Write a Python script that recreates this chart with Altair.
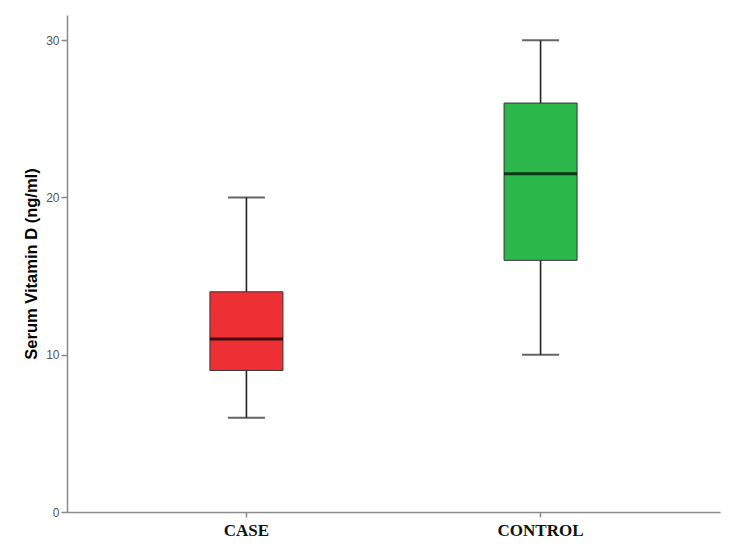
import altair as alt
import pandas as pd

groups = ["CASE", "CONTROL"]
mins = [6, 10]
q1s = [9, 16]
medians = [11, 21.5]
q3s = [14, 26]
maxs = [20, 30]
colors = ["#EE3035", "#2CB84A"]

df = pd.DataFrame({"group": groups, "min": mins, "q1": q1s, "median": medians,
                   "q3": q3s, "max": maxs})

xenc = alt.X("group:N", sort=groups, title=None,
             scale=alt.Scale(paddingInner=0.5, paddingOuter=0.36),
             axis=alt.Axis(labelAngle=0, labelFont="Liberation Serif", labelFontSize=17,
                           labelFontWeight="bold", labelColor="#111", labelPadding=5,
                           tickSize=5, tickColor="#8a8a8a", domainColor="#8a8a8a",
                           domainWidth=1.5, tickWidth=1.5))
yscale = alt.Scale(domain=[0, 31.6], nice=False, zero=True)
yaxis = alt.Axis(values=[0, 10, 20, 30], grid=False, title="Serum Vitamin D (ng/ml)",
                 titleFont="Liberation Sans", titleFontSize=16.5, titleFontWeight="bold",
                 titleColor="#000", titlePadding=6,
                 labelFont="Liberation Sans", labelFontSize=12, labelColor="#555555",
                 labelPadding=2, tickSize=6, tickColor="#8a8a8a", tickWidth=1.5,
                 domainColor="#8a8a8a", domainWidth=1.5)

base = alt.Chart(df)

whisker = base.mark_rule(color="#222", strokeWidth=1.6).encode(
    x=xenc, y=alt.Y("min:Q", scale=yscale, axis=yaxis), y2="max:Q")
caps_lo = base.mark_tick(color="#222", size=37, thickness=2).encode(
    x=alt.X("group:N", sort=groups), y=alt.Y("min:Q"))
caps_hi = base.mark_tick(color="#222", size=37, thickness=2).encode(
    x=alt.X("group:N", sort=groups), y=alt.Y("max:Q"))
box = base.mark_bar(size=73, stroke="#333", strokeWidth=1).encode(
    x=alt.X("group:N", sort=groups), y=alt.Y("q1:Q"), y2="q3:Q",
    color=alt.Color("group:N", scale=alt.Scale(domain=groups, range=colors), legend=None))
med = base.mark_tick(color="#000", size=73, thickness=3).encode(
    x=alt.X("group:N", sort=groups), y=alt.Y("median:Q"))

chart = alt.layer(whisker, caps_lo, caps_hi, box, med).properties(
    width=653, height=497,
    background="white",
    autosize=alt.AutoSizeParams(type="none"),
    padding={"left": 59, "top": 7, "right": 22, "bottom": 33},
).configure_view(strokeWidth=0)

chart.save("out.html", embed_options={"renderer": "svg", "actions": False})
